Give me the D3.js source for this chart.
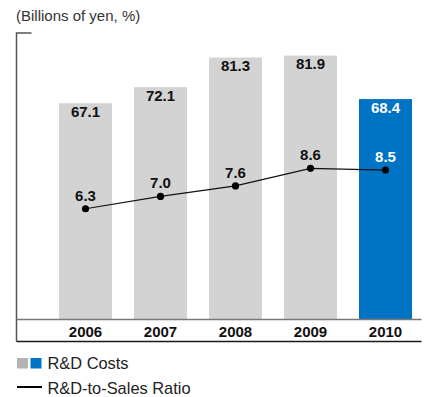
<!DOCTYPE html>
<html>
<head>
<meta charset="utf-8">
<script src="https://cdn.jsdelivr.net/npm/d3@7"></script>
<style>
  html, body { margin: 0; padding: 0; background: #fff; }
  svg { display: block; font-family: "Liberation Sans", Arial, Helvetica, sans-serif; }
</style>
</head>
<body>
<svg id="chart" width="428" height="397"></svg>
<script>
// Fiscal years
const years = ["2006", "2007", "2008", "2009", "2010"];
// R&D costs, billions of yen
const rdCosts = [67.1, 72.1, 81.3, 81.9, 68.4];
// R&D-to-sales ratio, %
const rdRatio = [6.3, 7.0, 7.6, 8.6, 8.5];

const grayBar = "#d3d3d3";
const blueBar = "#0074c4";

const svg = d3.select("#chart");

const left = 16.5, right = 421.5;
const baseY = 319.5, topY = 33;
const bottomLineY = 341.5;

const x = d3.scaleBand()
  .domain(years)
  .range([59, 412])
  .paddingInner(0.2933)
  .paddingOuter(0);

const yCost = d3.scaleLinear().domain([0, 88.9]).range([baseY, topY]);
const yRatio = d3.scaleLinear().domain([0, 16.3]).range([baseY, topY]);

// Unit caption
svg.append("text")
  .attr("x", 16).attr("y", 20.5)
  .attr("font-size", 15).attr("fill", "#333")
  .text("(Billions of yen, %)");

// Bars
svg.append("g").selectAll("rect")
  .data(rdCosts)
  .join("rect")
  .attr("x", (d, i) => x(years[i]))
  .attr("width", x.bandwidth())
  .attr("y", d => yCost(d))
  .attr("height", d => baseY - yCost(d))
  .attr("fill", (d, i) => i === years.length - 1 ? blueBar : grayBar);

// Frame: left axis with top tick, baseline and bottom rule
const frame = svg.append("g");
frame.append("path")
  .attr("d", `M${left + 15},${topY} H${left} V${bottomLineY}`)
  .attr("fill", "none").attr("stroke", "#555").attr("stroke-width", 1.5);
frame.append("line")
  .attr("x1", left).attr("x2", right)
  .attr("y1", baseY).attr("y2", baseY)
  .attr("stroke", "#777").attr("stroke-width", 1.3);
frame.append("line")
  .attr("x1", left).attr("x2", right)
  .attr("y1", bottomLineY).attr("y2", bottomLineY)
  .attr("stroke", "#1a1a1a").attr("stroke-width", 1.4);

// Cost labels at top of bars
svg.append("g").selectAll("text")
  .data(rdCosts)
  .join("text")
  .attr("x", (d, i) => x(years[i]) + x.bandwidth() / 2)
  .attr("y", d => yCost(d) + 13.5)
  .attr("text-anchor", "middle")
  .attr("font-size", 15).attr("font-weight", "bold")
  .attr("fill", (d, i) => i === years.length - 1 ? "#fff" : "#111")
  .text(d => d.toFixed(1));

// Ratio line
const cx = (d, i) => x(years[i]) + x.bandwidth() / 2;
const line = d3.line()
  .x((d, i) => cx(d, i))
  .y(d => yRatio(d));

svg.append("path")
  .datum(rdRatio)
  .attr("d", line)
  .attr("fill", "none")
  .attr("stroke", "#111")
  .attr("stroke-width", 1.2);

svg.append("g").selectAll("circle")
  .data(rdRatio)
  .join("circle")
  .attr("cx", cx)
  .attr("cy", d => yRatio(d))
  .attr("r", 3.6)
  .attr("fill", "#000");

svg.append("g").selectAll("text")
  .data(rdRatio)
  .join("text")
  .attr("x", cx)
  .attr("y", d => yRatio(d) - 8)
  .attr("text-anchor", "middle")
  .attr("font-size", 15).attr("font-weight", "bold")
  .attr("fill", (d, i) => i === years.length - 1 ? "#fff" : "#111")
  .text(d => d.toFixed(1));

// Year labels
svg.append("g").selectAll("text")
  .data(years)
  .join("text")
  .attr("x", d => x(d) + x.bandwidth() / 2)
  .attr("y", 337)
  .attr("text-anchor", "middle")
  .attr("font-size", 15).attr("font-weight", "bold")
  .attr("fill", "#111")
  .text(d => d);

// Legend
const legend = svg.append("g");
legend.append("rect")
  .attr("x", 17).attr("y", 358).attr("width", 11).attr("height", 10.5)
  .attr("fill", "#b3b3b3");
legend.append("rect")
  .attr("x", 30.5).attr("y", 358).attr("width", 11).attr("height", 10.5)
  .attr("fill", blueBar);
legend.append("text")
  .attr("x", 47.5).attr("y", 369)
  .attr("font-size", 16.4).attr("fill", "#222")
  .text("R&D Costs");
legend.append("line")
  .attr("x1", 17).attr("x2", 42)
  .attr("y1", 387).attr("y2", 387)
  .attr("stroke", "#000").attr("stroke-width", 2);
legend.append("text")
  .attr("x", 47.5).attr("y", 394)
  .attr("font-size", 16.4).attr("fill", "#222")
  .text("R&D-to-Sales Ratio");
</script>
</body>
</html>
